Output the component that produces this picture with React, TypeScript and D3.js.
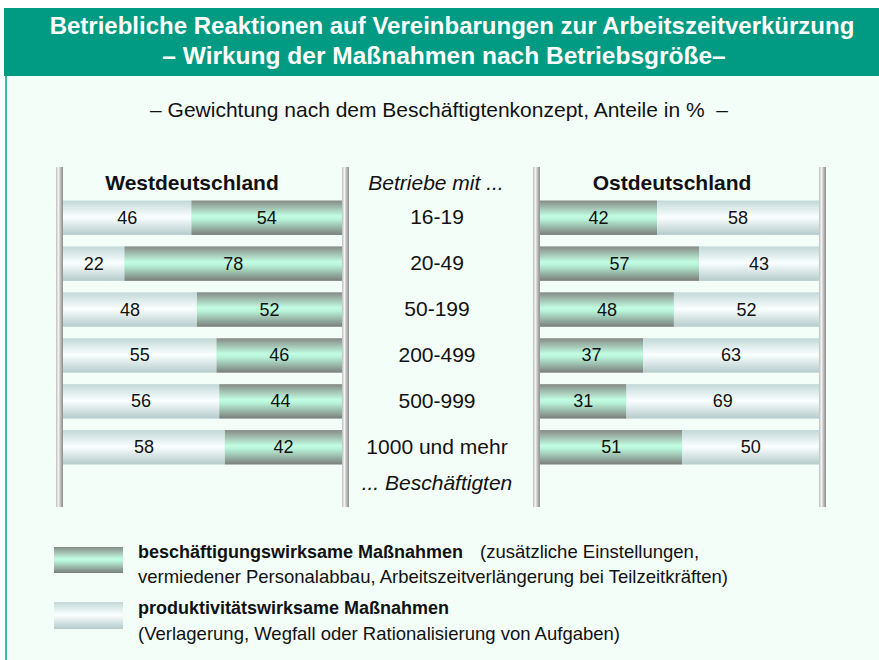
import React from "react";
import * as d3 from "d3";

const categories = ["16-19", "20-49", "50-199", "200-499", "500-999", "1000 und mehr"];
const westProd = [46, 22, 48, 55, 56, 58];
const westEmp = [54, 78, 52, 46, 44, 42];
const eastEmp = [42, 57, 48, 37, 31, 51];
const eastProd = [58, 43, 52, 63, 69, 50];

const titleLines = [
  "Betriebliche Reaktionen auf Vereinbarungen zur Arbeitszeitverkürzung",
  "– Wirkung der Maßnahmen nach Betriebsgröße–",
];
const subtitle = "– Gewichtung nach dem Beschäftigtenkonzept, Anteile in %  –";

const FONT = "Arial, 'Liberation Sans', Helvetica, sans-serif";

export default function App() {
  const W = 879, H = 660;
  const y = d3.scaleBand<string>().domain(categories).range([206 - 5.5, 459 + 5.5]).paddingInner(11 / 44).paddingOuter(0);
  const xW = d3.scaleLinear().domain([0, 100]).range([63, 342]);
  const xE = d3.scaleLinear().domain([0, 100]).range([540, 819]);
  const bh = y.bandwidth();

  const pole = (x: number, key: string) => (
    <rect key={key} x={x} y={167} width={7} height={340} fill="url(#poleGrad)" />
  );

  const numText = (cx: number, cy: number, v: number, key: string) => (
    <text key={key} x={cx} y={cy + 6} textAnchor="middle" fontSize={18} fill="#111">{v}</text>
  );

  return (
    <>
      <style>{"body{margin:0}"}</style>
      <svg width={W} height={H} style={{ display: "block", fontFamily: FONT }}>
        <defs>
          <linearGradient id="darkGrad" x1="0" y1="0" x2="0" y2="1">
            <stop offset="0%" stopColor="#858a86" />
            <stop offset="45%" stopColor="#c2fde2" />
            <stop offset="55%" stopColor="#b8f2d8" />
            <stop offset="100%" stopColor="#7a7d7b" />
          </linearGradient>
          <linearGradient id="lightGrad" x1="0" y1="0" x2="0" y2="1">
            <stop offset="0%" stopColor="#c2d8d8" />
            <stop offset="48%" stopColor="#fbffff" />
            <stop offset="100%" stopColor="#b5cbcb" />
          </linearGradient>
          <linearGradient id="poleGrad" x1="0" y1="0" x2="1" y2="0">
            <stop offset="0%" stopColor="#bdbdbd" />
            <stop offset="35%" stopColor="#f4f4f4" />
            <stop offset="70%" stopColor="#b4b4b4" />
            <stop offset="100%" stopColor="#8e8e8e" />
          </linearGradient>
        </defs>

        <rect x={0} y={0} width={W} height={H} fill="#ffffff" />
        <rect x={4} y={76} width={W - 4} height={H - 76} fill="#f3fef9" />
        <rect x={5} y={76} width={2} height={H - 76} fill="#3fb9a0" />
        <rect x={4} y={8} width={W - 4} height={68} fill="#009b82" />

        {titleLines.map((t, i) => (
          <text key={t} x={i === 0 ? 452 : 444} y={34 + i * 30} textAnchor="middle" fontSize={i === 0 ? 24 : 24.5} fontWeight="bold" fill="#ffffff">{t}</text>
        ))}
        <text x={439} y={117} textAnchor="middle" fontSize={21} fill="#111" style={{ whiteSpace: "pre" }}>{subtitle}</text>

        {/* West panel */}
        <text x={192} y={190} textAnchor="middle" fontSize={21} fontWeight="bold" fill="#111">Westdeutschland</text>
        {categories.map((c, i) => {
          const y0 = y(c)!;
          const split = xW(westProd[i]);
          return (
            <g key={"w" + c}>
              <rect x={xW(0)} y={y0} width={split - xW(0)} height={bh} fill="url(#lightGrad)" />
              <rect x={split} y={y0} width={xW(100) - split} height={bh} fill="url(#darkGrad)" />
              {numText((xW(0) + split) / 2, y0 + bh / 2, westProd[i], "wp")}
              {numText((split + xW(100)) / 2, y0 + bh / 2, westEmp[i], "we")}
            </g>
          );
        })}
        {pole(56, "p1")}
        {pole(342, "p2")}

        {/* Center labels */}
        <text x={436} y={190} textAnchor="middle" fontSize={21} fontStyle="italic" fill="#111">Betriebe mit ...</text>
        {categories.map((c) => (
          <text key={"c" + c} x={437} y={y(c)! + bh / 2 + 6.5} textAnchor="middle" fontSize={21} fill="#111">{c}</text>
        ))}
        <text x={437} y={490} textAnchor="middle" fontSize={21} fontStyle="italic" fill="#111">... Beschäftigten</text>

        {/* East panel */}
        <text x={672} y={190} textAnchor="middle" fontSize={21} fontWeight="bold" fill="#111">Ostdeutschland</text>
        {categories.map((c, i) => {
          const y0 = y(c)!;
          const split = xE(eastEmp[i]);
          return (
            <g key={"e" + c}>
              <rect x={xE(0)} y={y0} width={split - xE(0)} height={bh} fill="url(#darkGrad)" />
              <rect x={split} y={y0} width={xE(100) - split} height={bh} fill="url(#lightGrad)" />
              {numText((xE(0) + split) / 2, y0 + bh / 2, eastEmp[i], "ee")}
              {numText((split + xE(100)) / 2, y0 + bh / 2, eastProd[i], "ep")}
            </g>
          );
        })}
        {pole(533, "p3")}
        {pole(819, "p4")}

        {/* Legend */}
        <rect x={54} y={547} width={69} height={26} fill="url(#darkGrad)" />
        <rect x={54} y={602} width={69} height={27} fill="url(#lightGrad)" />
        <text x={138} y={558} fontSize={18} fill="#111">
          <tspan fontWeight="bold">beschäftigungswirksame Maßnahmen</tspan>
          <tspan x={480} fontSize={18.5}>(zusätzliche Einstellungen,</tspan>
        </text>
        <text x={138} y={583} fontSize={18.5} fill="#111">vermiedener Personalabbau, Arbeitszeitverlängerung bei Teilzeitkräften)</text>
        <text x={138} y={614} fontSize={18} fontWeight="bold" fill="#111">produktivitätswirksame Maßnahmen</text>
        <text x={138} y={640} fontSize={18.5} fill="#111">(Verlagerung, Wegfall oder Rationalisierung von Aufgaben)</text>
      </svg>
    </>
  );
}
